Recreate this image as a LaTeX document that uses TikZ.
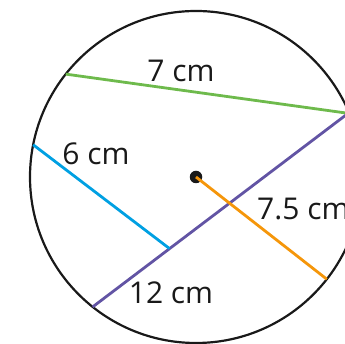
\documentclass[tikz,border=0pt]{standalone}
\usepackage{fontspec}
\setmainfont{Open Sans}
\usetikzlibrary{calc}
\begin{document}
\begin{tikzpicture}[
  x=1pt, y=1pt,
  rim/.style={draw=black!90, line width=2.2pt},
  chord/.style={line width=2.8pt},
  lbl/.style={anchor=base, inner sep=0pt, text=black!90, font=\fontsize{30}{30}\selectfont}
]
  \definecolor{chgreen}{RGB}{110,186,76}
  \definecolor{chblue}{RGB}{0,160,226}
  \definecolor{chpurple}{RGB}{98,84,164}
  \definecolor{chorange}{RGB}{245,150,10}

  % Marco (el círculo sale por la derecha)
  \clip (0,0) rectangle (345,344);

  % Circunferencia y centro
  \coordinate (o) at (196,167);
  \draw[rim] (o) circle (166);
  \node[circle, fill=black!90, inner sep=0pt, minimum size=12.5pt] (c) at (o) {};

  % Extremos de las cuerdas
  \coordinate (g1) at ($(o)+(141.7:166)$);
  \coordinate (g2) at ($(o)+(22.5:166)$);
  \coordinate (p1) at ($(o)+(231.5:166)$);
  \coordinate (p2) at ($(o)+(22.8:166)$);
  \coordinate (b1) at ($(o)+(168.8:166)$);
  \coordinate (b2) at ($(p1)!0.3!(p2)$);
  \coordinate (r1) at ($(o)+(-38:166)$);

  % Cuerdas y radio
  \draw[chord, chgreen] (g1) -- (g2);
  \draw[chord, chpurple] (p1) -- (p2);
  \draw[chord, chblue] (b1) -- (b2);
  \draw[chord, chorange] (c.center) -- (r1);

  % Medidas
  \node[lbl] (l7) at (181,262) {7 cm};
  \node[lbl] (l6) at (96,179) {6 cm};
  \node[lbl] (l12) at (171,40) {12 cm};
  \node[lbl, anchor=base west] (l75) at (257,124) {7.5 cm};

\end{tikzpicture}
\end{document}
